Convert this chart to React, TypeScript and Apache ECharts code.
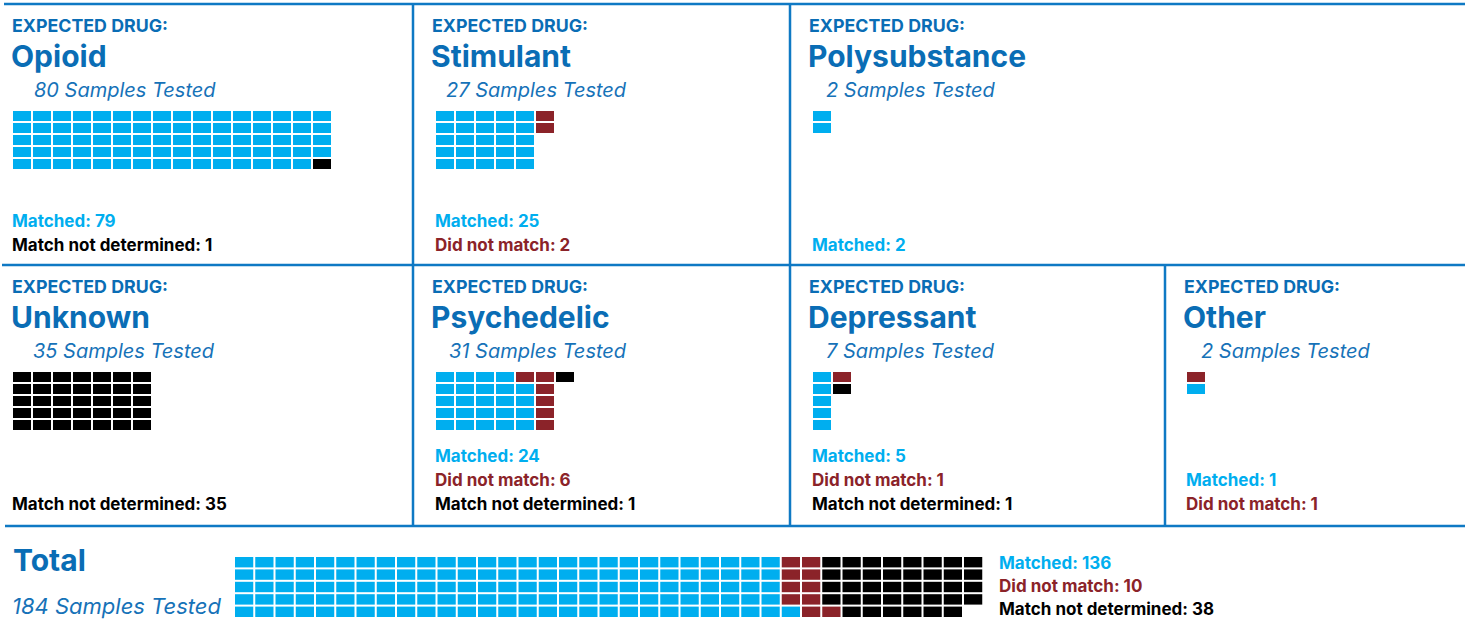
import React, { useEffect, useRef } from "react";
import * as echarts from "echarts";

// ---------- DATA ----------
const panelNames = ["Opioid", "Stimulant", "Polysubstance", "Unknown", "Psychedelic", "Depressant", "Other"];
const samplesTested = [80, 27, 2, 35, 31, 7, 2];
const matchedCounts = [79, 25, 2, 0, 24, 5, 1];
const didNotMatchCounts = [0, 2, 0, 0, 6, 1, 1];
const notDeterminedCounts = [1, 0, 0, 35, 1, 1, 0];

const totalTested = 184;
const totalMatched = 136;
const totalDidNotMatch = 10;
const totalNotDetermined = 38;

// Waffle cells as drawn: one string per row (top to bottom), one character per column.
// M = matched, D = did not match, N = match not determined, space = empty
const opioidCells = [
  "MMMMMMMMMMMMMMMM",
  "MMMMMMMMMMMMMMMM",
  "MMMMMMMMMMMMMMMM",
  "MMMMMMMMMMMMMMMM",
  "MMMMMMMMMMMMMMMN",
];
const stimulantCells = ["MMMMMD", "MMMMMD", "MMMMM ", "MMMMM ", "MMMMM "];
const polysubstanceCells = ["M", "M"];
const unknownCells = ["NNNNNNN", "NNNNNNN", "NNNNNNN", "NNNNNNN", "NNNNNNN"];
const psychedelicCells = ["MMMMDDN", "MMMMMD ", "MMMMMD ", "MMMMMD ", "MMMMMD "];
const depressantCells = ["MD", "MN", "M ", "M ", "M "];
const otherCells = ["D", "M"];
const totalCells = [
  "MMMMMMMMMMMMMMMMMMMMMMMMMMMDDNNNNNNNN",
  "MMMMMMMMMMMMMMMMMMMMMMMMMMMDDNNNNNNNN",
  "MMMMMMMMMMMMMMMMMMMMMMMMMMMDDNNNNNNNN",
  "MMMMMMMMMMMMMMMMMMMMMMMMMMMDDNNNNNNNN",
  "MMMMMMMMMMMMMMMMMMMMMMMMMMMMDDNNNNNN ",
];
const panelCells = [opioidCells, stimulantCells, polysubstanceCells, unknownCells, psychedelicCells, depressantCells, otherCells];

// ---------- STYLE / LAYOUT ----------
const C_MATCH = "#00aeef";
const C_DID_NOT = "#8b2329";
const C_NOT_DET = "#000000";
const C_TITLE = "#0a6db5";
const C_SUB = "#1672b8";
const C_LINE = "#0f79c4";
const FONT = "Inter, 'Noto Sans', Roboto, sans-serif";

const codeIndex: Record<string, number> = { M: 0, D: 1, N: 2 };
const idxColor = [C_MATCH, C_DID_NOT, C_NOT_DET];

const panelTextX = [12, 432, 809, 12, 432, 809, 1184];
const panelRow = [0, 0, 0, 1, 1, 1, 1];
const subIndent = [22, 14, 17, 21, 17, 17, 17];
const waffleX = [13, 436, 813, 13, 436, 813, 1187];
const ROW_OFFSET = 261;

function cellsToData(rows: string[]) {
  const out: number[][] = [];
  rows.forEach((row, r) => {
    for (let c = 0; c < row.length; c++) {
      const ch = row[c];
      if (ch in codeIndex) out.push([c, r, codeIndex[ch]]);
    }
  });
  return out;
}

function text(x: number, y: number, t: string, size: number, color: string, weight: string | number = "bold", style = "normal") {
  return {
    type: "text",
    x,
    y,
    silent: true,
    style: {
      text: t,
      fill: color,
      fontSize: size,
      fontWeight: weight,
      fontStyle: style,
      fontFamily: FONT,
      verticalAlign: "middle",
      align: "left",
    },
  };
}

function line(x1: number, y1: number, x2: number, y2: number) {
  return { type: "line", silent: true, shape: { x1, y1, x2, y2 }, style: { stroke: C_LINE, lineWidth: 2.5 } };
}

export default function App() {
  const ref = useRef<HTMLDivElement>(null);

  useEffect(() => {
    if (!ref.current) return;
    const chart = echarts.init(ref.current, undefined, { renderer: "svg" });

    const grids: any[] = [];
    const xAxes: any[] = [];
    const yAxes: any[] = [];
    const series: any[] = [];
    const graphics: any[] = [];

    const renderItem = (params: any, api: any) => {
      const p = api.coord([api.value(0), api.value(1)]);
      const s = api.size([1, 1]);
      return {
        type: "rect",
        shape: { x: p[0], y: p[1], width: s[0] - 2, height: s[1] - 2 },
        style: { fill: idxColor[api.value(2)] },
      };
    };

    const addWaffle = (rows: string[], left: number, top: number, pitchX: number, pitchY: number) => {
      const ncols = Math.max(...rows.map((r) => r.length));
      const i = grids.length;
      grids.push({ left, top, width: ncols * pitchX, height: 5 * pitchY, containLabel: false });
      xAxes.push({ type: "value", gridIndex: i, min: 0, max: ncols, show: false });
      yAxes.push({ type: "value", gridIndex: i, min: 0, max: 5, inverse: true, show: false });
      series.push({
        type: "custom",
        xAxisIndex: i,
        yAxisIndex: i,
        renderItem,
        encode: { x: 0, y: 1 },
        data: cellsToData(rows),
        silent: true,
      });
    };

    panelNames.forEach((name, k) => {
      const row = panelRow[k];
      const off = row * ROW_OFFSET;
      const x = panelTextX[k];
      graphics.push(text(x, 25.5 + off, "EXPECTED DRUG:", 17.8, C_TITLE, "bold"));
      graphics.push(text(x - 1, 56 + off, name, 30, C_TITLE, "bold"));
      graphics.push(text(x + subIndent[k], 89.5 + off, `${samplesTested[k]} Samples Tested`, 20, C_SUB, "normal", "italic"));
      addWaffle(panelCells[k], waffleX[k], 111 + off, 20, 12);

      const legend: [string, string][] = [];
      if (matchedCounts[k] > 0) legend.push([`Matched: ${matchedCounts[k]}`, C_MATCH]);
      if (didNotMatchCounts[k] > 0) legend.push([`Did not match: ${didNotMatchCounts[k]}`, C_DID_NOT]);
      if (notDeterminedCounts[k] > 0) legend.push([`Match not determined: ${notDeterminedCounts[k]}`, C_NOT_DET]);
      const lastY = row === 0 ? 244.5 : 504;
      const step = row === 0 ? 23.5 : 24;
      const lx = k === 0 || k === 3 ? 12 : waffleX[k] - 1;
      legend.forEach(([t, c], j) => {
        graphics.push(text(lx, lastY - (legend.length - 1 - j) * step, t, 17, c, "bold"));
      });
    });

    // Total
    graphics.push(text(13, 559.5, "Total", 30, C_TITLE, "bold"));
    graphics.push(text(12, 606, `${totalTested} Samples Tested`, 22, C_SUB, "normal", "italic"));
    addWaffle(totalCells, 235, 557, 20.25, 12.4);
    graphics.push(text(999, 563, `Matched: ${totalMatched}`, 17, C_MATCH, "bold"));
    graphics.push(text(999, 586, `Did not match: ${totalDidNotMatch}`, 17, C_DID_NOT, "bold"));
    graphics.push(text(999, 609, `Match not determined: ${totalNotDetermined}`, 17, C_NOT_DET, "bold"));

    // Frame lines
    graphics.push(line(4, 4, 1465, 4));
    graphics.push(line(2, 265, 1465, 265));
    graphics.push(line(5, 526, 1465, 526));
    graphics.push(line(413, 4, 413, 526));
    graphics.push(line(790, 4, 790, 526));
    graphics.push(line(1165, 265, 1165, 526));

    chart.setOption({
      animation: false,
      backgroundColor: "#ffffff",
      grid: grids,
      xAxis: xAxes,
      yAxis: yAxes,
      series,
      graphic: { elements: graphics },
    });

    return () => chart.dispose();
  }, []);

  return (
    <div
      ref={ref}
      style={{ position: "absolute", left: 0, top: 0, width: 1465, height: 620, background: "#fff" }}
    />
  );
}
